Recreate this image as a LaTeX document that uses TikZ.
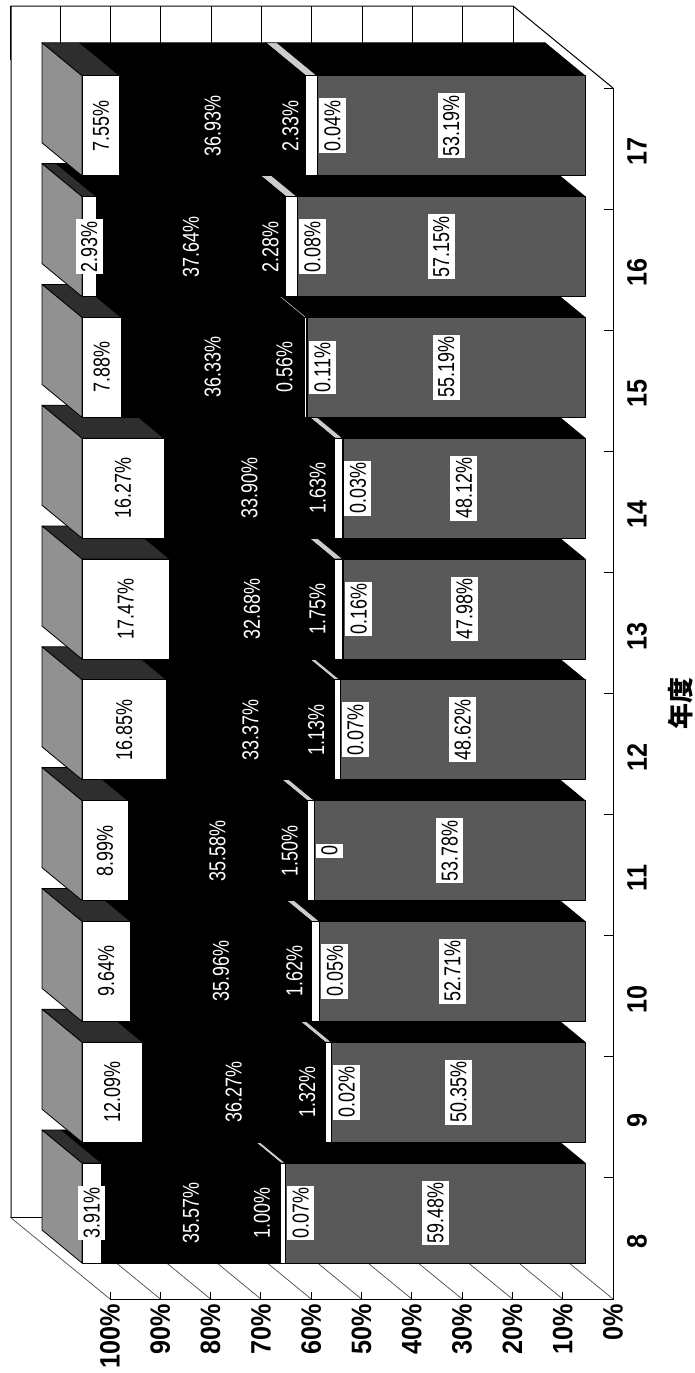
\documentclass[tikz,border=0pt]{standalone}
\usepackage{fontspec}
\setmainfont{Liberation Sans}
\newfontfamily\labfont[FakeStretch=0.78]{Liberation Sans}
\newfontfamily\axfont[FakeStretch=0.9]{Liberation Sans}
\newfontfamily\cjkfont{Noto Sans CJK JP}
\definecolor{segA}{gray}{0.35}
\definecolor{endE}{gray}{0.57}
\definecolor{sideE}{gray}{0.18}
\definecolor{sideC}{gray}{0.80}
\tikzset{
  face/.style={draw=black, line width=0.8pt, line join=round},
  boxlab/.style={fill=white, text=black, inner xsep=2pt, inner ysep=0pt, minimum height=27pt, rotate=90, font=\labfont\fontsize{23}{23}\selectfont},
  wlab/.style={text=white, inner sep=0pt, rotate=90, font=\labfont\fontsize{23}{23}\selectfont},
  ticklab/.style={rotate=90, inner sep=0pt, font=\axfont\bfseries\fontsize{28}{28}\selectfont},
  wall/.style={line width=1pt, draw=black},
  gridl/.style={line width=0.7pt, draw=black!70},
}
\newcommand\drawbar[6]{%
  \pgfmathsetmacro\yt{1163-120.8*#1}%
  \pgfmathsetmacro\yb{\yt+100}%
  \pgfmathsetmacro\ym{\yt+50}%
  \pgfmathsetmacro\xa{585-5.03*#2}%
  \pgfmathsetmacro\xb{\xa-5.03*#3}%
  \pgfmathsetmacro\xc{\xb-5.03*#4}%
  \pgfmathsetmacro\xd{\xc-5.03*#5}%
  % side faces (top strip in the picture) and the end face
  \filldraw[face, fill=black] (585,\yt) -- (\xa,\yt) -- ({\xa-40},{\yt-33}) -- (545,{\yt-33}) -- cycle;
  \filldraw[face, fill=sideC] (\xb,\yt) -- (\xc,\yt) -- ({\xc-40},{\yt-33}) -- ({\xb-40},{\yt-33}) -- cycle;
  \filldraw[face, fill=black] (\xc,\yt) -- (\xd,\yt) -- ({\xd-40},{\yt-33}) -- ({\xc-40},{\yt-33}) -- cycle;
  \filldraw[face, fill=sideE] (\xd,\yt) -- (82,\yt) -- (42,{\yt-33}) -- ({\xd-40},{\yt-33}) -- cycle;
  \filldraw[face, fill=endE] (82,\yt) -- (82,\yb) -- (42,{\yb-33}) -- (42,{\yt-33}) -- cycle;
  % front faces
  \filldraw[face, fill=segA] (\xa,\yt) rectangle (585,\yb);
  \filldraw[face, fill=black] (\xd,\yt) rectangle (\xc,\yb);
  \filldraw[face, fill=white] (\xc,\yt) rectangle (\xb,\yb);
  \filldraw[face, fill=white] (82,\yt) rectangle (\xd,\yb);
  % labels
  \node[boxlab] (la#1) at ({(585+\xa)/2},\ym) {#2\%};
  \node[boxlab] (lb#1) at ({\xa+15},\ym) {\ifdim#3pt=0pt 0\else#3\%\fi};
  \node[wlab] (lc#1) at ({(\xb+\xc)/2-21},\ym) {#4\%};
  \node[wlab] (ld#1) at ({(\xc+\xd)/2},\ym) {#5\%};
  \node[boxlab] (le#1) at ({(\xd+82)/2},\ym) {#6\%};
}
\begin{document}
\begin{tikzpicture}[x=1pt,y=-1pt]
\useasboundingbox (0,0) rectangle (694,1373);
\fill[white] (0,0) rectangle (694,1373);
% back wall
\foreach \k in {0,...,10} { \draw[wall] ({513-50.3*\k},6) -- ({513-50.3*\k},60); }
\draw[wall] (11,1217) -- (11,6) -- (513,6) -- (613,88);
\draw[wall] (11,1217) -- (513,1217);
% side wall grid
\foreach \k in {0,...,10} { \draw[gridl] ({613-50.3*\k},1299) -- ({513-50.3*\k},1217); }
% front axes and ticks
\draw[wall] (110,1299) -- (613,1299) -- (613,88);
\foreach \k in {0,...,10} { \draw[wall] ({613-50.3*\k},1299) -- ({613-50.3*\k},1292); }
\foreach \k in {0,...,10} { \draw[wall] (613,{1299-121.1*\k}) -- (604,{1299-121.1*\k}); }
% bars
\drawbar{0}{59.48}{0.07}{1.00}{35.57}{3.91}
\drawbar{1}{50.35}{0.02}{1.32}{36.27}{12.09}
\drawbar{2}{52.71}{0.05}{1.62}{35.96}{9.64}
\drawbar{3}{53.78}{0}{1.50}{35.58}{8.99}
\drawbar{4}{48.62}{0.07}{1.13}{33.37}{16.85}
\drawbar{5}{47.98}{0.16}{1.75}{32.68}{17.47}
\drawbar{6}{48.12}{0.03}{1.63}{33.90}{16.27}
\drawbar{7}{55.19}{0.11}{0.56}{36.33}{7.88}
\drawbar{8}{57.15}{0.08}{2.28}{37.64}{2.93}
\drawbar{9}{53.19}{0.04}{2.33}{36.93}{7.55}
% value axis labels
\foreach \k in {0,...,10} {
  \node[ticklab, anchor=east] (pct\k) at ({613-50.3*\k},1304) {\the\numexpr10*\k\relax\%};
}
% category labels
\foreach \k/\t in {0/8,1/9,2/10,3/11,4/12,5/13,6/14,7/15,8/16,9/17} {
  \node[ticklab] (cat\t) at (637,{1299-121.1*\k-57.5}) {\t};
}
\node[rotate=90, inner sep=0pt, font=\cjkfont\bfseries\fontsize{26}{26}\selectfont] (nendo) at (681,703) {年度};
\end{tikzpicture}
\end{document}
